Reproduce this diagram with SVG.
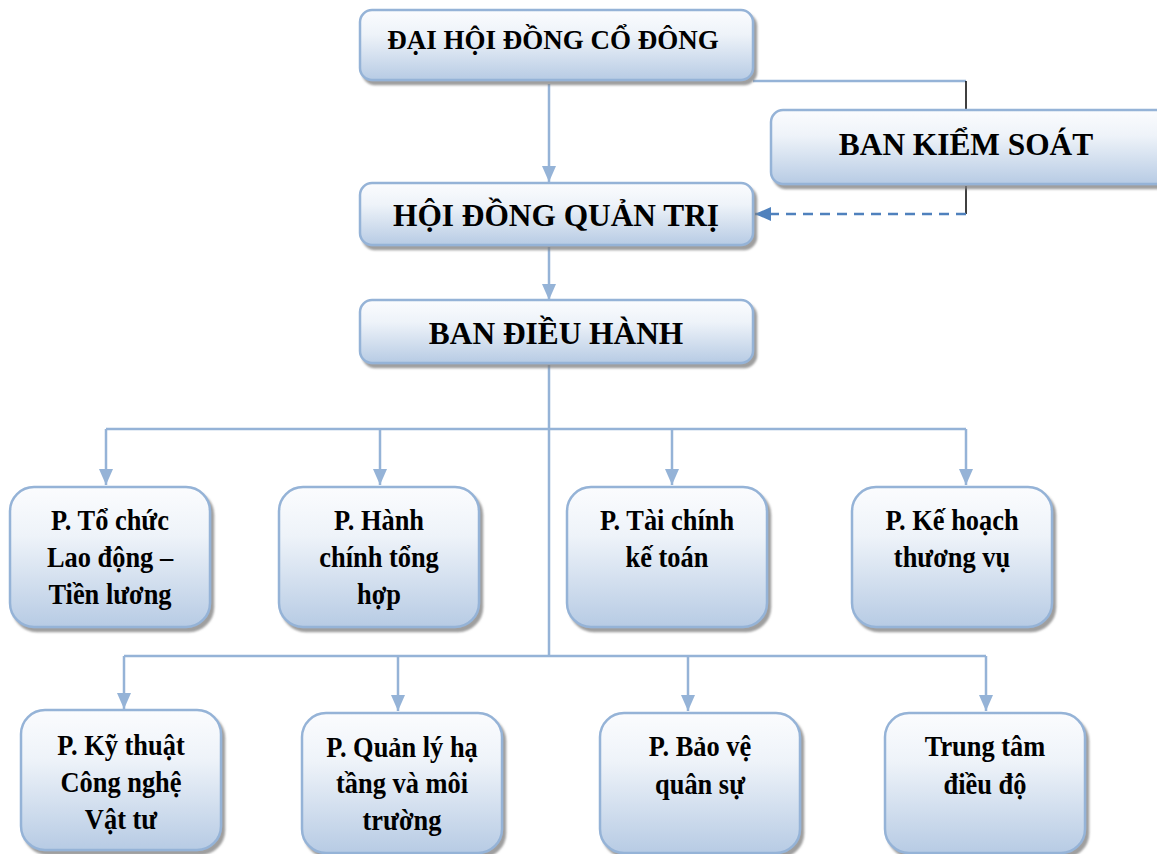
<svg xmlns="http://www.w3.org/2000/svg" width="1157" height="854" viewBox="0 0 1157 854">
<defs>
<linearGradient id="g" x1="0" y1="0" x2="0" y2="1">
<stop offset="0" stop-color="#fbfcfe"/>
<stop offset="0.35" stop-color="#eef3f9"/>
<stop offset="1" stop-color="#b7cbe4"/>
</linearGradient>
<filter id="sh" x="-10%" y="-10%" width="120%" height="130%">
<feDropShadow dx="3" dy="4" stdDeviation="1" flood-color="#7f7f7f" flood-opacity="0.75"/>
</filter>
<marker id="ah" viewBox="0 0 16 14" refX="16" refY="7" markerWidth="16" markerHeight="14" markerUnits="userSpaceOnUse" orient="auto">
<path d="M0,0 L16,7 L0,14 Z" fill="#95b3d7"/>
</marker>
<marker id="ahd" viewBox="0 0 16 14" refX="16" refY="7" markerWidth="16" markerHeight="14" markerUnits="userSpaceOnUse" orient="auto">
<path d="M0,0 L16,7 L0,14 Z" fill="#4f81bd"/>
</marker>
</defs>
<style>
.box{fill:url(#g);stroke:#95b3d7;stroke-width:2.5;filter:url(#sh)}
.c{fill:none;stroke:#95b3d7;stroke-width:2.5}
.k{fill:none;stroke:#000;stroke-width:1.5}
.d{fill:none;stroke:#4f81bd;stroke-width:2.5;stroke-dasharray:10 7}
text{font-family:"Liberation Serif","Times New Roman",serif;font-weight:bold;fill:#000;text-anchor:middle}
.big{font-size:32.5px}
.top{font-size:27px}
.sm{font-size:30px}
</style>

<g id="connectors">
<path class="c" d="M549,84 V182" marker-end="url(#ah)"/>
<path class="c" d="M549,247 V300" marker-end="url(#ah)"/>
<path class="c" d="M753,81 H966"/>
<path class="k" d="M966,81 V110"/>
<path class="k" d="M966,186 V214"/>
<path class="d" d="M966,214 H755" marker-end="url(#ahd)"/>
<path class="c" d="M549,365 V656"/>
<path class="c" d="M106,429 H966"/>
<path class="c" d="M106,429 V485" marker-end="url(#ah)"/>
<path class="c" d="M380,429 V485" marker-end="url(#ah)"/>
<path class="c" d="M672,429 V485" marker-end="url(#ah)"/>
<path class="c" d="M966,429 V485" marker-end="url(#ah)"/>
<path class="c" d="M124,656 H986"/>
<path class="c" d="M124,656 V709" marker-end="url(#ah)"/>
<path class="c" d="M398,656 V711" marker-end="url(#ah)"/>
<path class="c" d="M688,656 V711" marker-end="url(#ah)"/>
<path class="c" d="M986,656 V711" marker-end="url(#ah)"/>
</g>

<g id="dhdcd">
<rect class="box" x="360" y="10" width="393" height="70" rx="12"/>
<text class="top" x="553" y="49">ĐẠI HỘI ĐỒNG CỔ ĐÔNG</text>
</g>
<g id="bks">
<rect class="box" x="771" y="110" width="400" height="74" rx="12"/>
<g transform="translate(966 0) scale(0.965 1)"><text class="big" x="0" y="155">BAN KIỂM SOÁT</text></g>
</g>
<g id="hdqt">
<rect class="box" x="360" y="183" width="393" height="62" rx="12"/>
<g transform="translate(556 0) scale(0.965 1)"><text class="big" x="0" y="226">HỘI ĐỒNG QUẢN TRỊ</text></g>
</g>
<g id="bdh">
<rect class="box" x="360" y="300" width="393" height="63" rx="12"/>
<g transform="translate(556 0) scale(0.965 1)"><text class="big" x="0" y="344">BAN ĐIỀU HÀNH</text></g>
</g>

<g id="p1">
<rect class="box" x="10" y="487" width="200" height="140" rx="24"/>
<g transform="translate(110 0) scale(0.88 1)">
<text class="sm" x="0" y="530">P. Tổ chức</text>
<text class="sm" x="0" y="567">Lao động –</text>
<text class="sm" x="0" y="604">Tiền lương</text>
</g>
</g>
<g id="p2">
<rect class="box" x="279" y="487" width="200" height="140" rx="24"/>
<g transform="translate(379 0) scale(0.88 1)">
<text class="sm" x="0" y="530">P. Hành</text>
<text class="sm" x="0" y="567">chính tổng</text>
<text class="sm" x="0" y="604">hợp</text>
</g>
</g>
<g id="p3">
<rect class="box" x="567" y="487" width="200" height="140" rx="24"/>
<g transform="translate(667 0) scale(0.88 1)">
<text class="sm" x="0" y="530">P. Tài chính</text>
<text class="sm" x="0" y="567">kế toán</text>
</g>
</g>
<g id="p4">
<rect class="box" x="852" y="487" width="200" height="140" rx="24"/>
<g transform="translate(952 0) scale(0.88 1)">
<text class="sm" x="0" y="530">P. Kế hoạch</text>
<text class="sm" x="0" y="567">thương vụ</text>
</g>
</g>

<g id="p5">
<rect class="box" x="21" y="710" width="200" height="140" rx="24"/>
<g transform="translate(121 0) scale(0.88 1)">
<text class="sm" x="0" y="755">P. Kỹ thuật</text>
<text class="sm" x="0" y="792">Công nghệ</text>
<text class="sm" x="0" y="829">Vật tư</text>
</g>
</g>
<g id="p6">
<rect class="box" x="302" y="713" width="200" height="140" rx="24"/>
<g transform="translate(402 0) scale(0.88 1)">
<text class="sm" x="0" y="757">P. Quản lý hạ</text>
<text class="sm" x="0" y="793">tầng và môi</text>
<text class="sm" x="0" y="830">trường</text>
</g>
</g>
<g id="p7">
<rect class="box" x="600" y="713" width="200" height="140" rx="24"/>
<g transform="translate(700 0) scale(0.88 1)">
<text class="sm" x="0" y="756">P. Bảo vệ</text>
<text class="sm" x="0" y="794">quân sự</text>
</g>
</g>
<g id="p8">
<rect class="box" x="885" y="713" width="200" height="140" rx="24"/>
<g transform="translate(985 0) scale(0.88 1)">
<text class="sm" x="0" y="756">Trung tâm</text>
<text class="sm" x="0" y="794">điều độ</text>
</g>
</g>
</svg>
